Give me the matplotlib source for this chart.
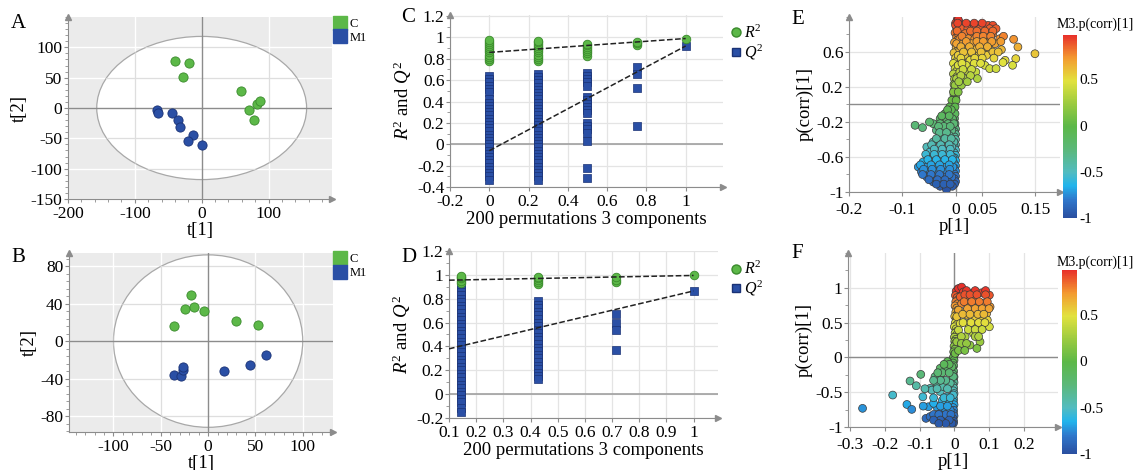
import numpy as np
import matplotlib
matplotlib.use("Agg")
import matplotlib.pyplot as plt
from matplotlib.patches import Ellipse
from matplotlib.lines import Line2D
from matplotlib.ticker import FuncFormatter, MultipleLocator, AutoMinorLocator
from matplotlib.colors import LinearSegmentedColormap

plt.rcParams['font.family'] = ['Liberation Serif', 'DejaVu Serif']
plt.rcParams['mathtext.fontset'] = 'custom'
plt.rcParams['mathtext.rm'] = 'Liberation Serif'
plt.rcParams['mathtext.it'] = 'Liberation Serif:italic'
plt.rcParams['axes.unicode_minus'] = False

GREEN, GREEN_E = '#5cb848', '#3a8a2c'
BLUE, BLUE_E = '#2a4fa5', '#1a3275'

# ---- A: scores ----
A_C_t1 = [-40, -19, -28, 59, 71, 78, 83, 88]
A_C_t2 = [78, 75, 51, 28, -3, -20, 6, 12]
A_M1_t1 = [-67, -66, -44, -36, -32, -13, -21, 0]
A_M1_t2 = [-3, -8, -8, -19, -31, -45, -55, -61]
A_ellipse = (157, 118)

# ---- B: scores ----
B_C_t1 = [-18, -24, -15, -4, -36, 30, 53]
B_C_t2 = [49, 34, 36, 32, 16, 21, 17]
B_M1_t1 = [-36, -29, -27, -26, 17, 44, 61]
B_M1_t2 = [-36, -37, -31, -28, -32, -25, -15]
B_ellipse = (100, 92)

# ---- C: permutations ----
C_R2_x = [0]*11 + [0.25]*11 + [0.5]*7 + [0.75]*3 + [1]
C_R2_y = [0.78, 0.80, 0.82, 0.84, 0.86, 0.88, 0.90, 0.92, 0.94, 0.96, 0.98,
          0.78, 0.80, 0.82, 0.84, 0.86, 0.88, 0.90, 0.92, 0.94, 0.96, 0.97,
          0.83, 0.85, 0.87, 0.89, 0.91, 0.93, 0.94,
          0.93, 0.95, 0.96,
          0.99]
C_Q2_x0 = [0.64, 0.61, 0.58, 0.55, 0.52, 0.49, 0.42, 0.39, 0.36, 0.33, 0.30,
           0.27, 0.24, 0.21, 0.18, 0.15, 0.12, 0.09, 0.06, 0.03, 0.00, -0.03,
           -0.06, -0.09, -0.12, -0.15, -0.18, -0.21, -0.24, -0.27, -0.30, -0.33]
C_Q2_x25 = [0.66, 0.63, 0.60, 0.57, 0.54, 0.51, 0.48, 0.45, 0.42, 0.39, 0.36,
            0.33, 0.30, 0.27, 0.24, 0.21, 0.18, 0.15, 0.12, 0.09, 0.06, 0.03,
            0.00, -0.03, -0.06, -0.09, -0.12, -0.15, -0.18, -0.21, -0.24,
            -0.27, -0.30, -0.33]
C_Q2_x50 = [0.67, 0.64, 0.61, 0.58, 0.55, 0.44, 0.41, 0.38, 0.35, 0.32, 0.29,
            0.20, 0.17, 0.14, 0.11, 0.03, -0.22, -0.32]
C_Q2_x75 = [0.72, 0.66, 0.53, 0.17]
C_Q2_x100 = [0.92]
C_R2_line = (0.86, 0.99)
C_Q2_line = (-0.06, 0.92)

# ---- D: permutations ----
D_R2_x = [0.143]*5 + [0.429]*5 + [0.714]*3 + [1]
D_R2_y = [0.93, 0.95, 0.97, 0.98, 0.99,
          0.92, 0.94, 0.96, 0.97, 0.98,
          0.94, 0.96, 0.98,
          0.995]
D_Q2_x14 = [0.92, 0.89, 0.86, 0.83, 0.80, 0.77, 0.74, 0.71, 0.68, 0.65, 0.62,
            0.59, 0.56, 0.53, 0.50, 0.47, 0.44, 0.41, 0.38, 0.35, 0.32, 0.29,
            0.26, 0.23, 0.20, 0.17, 0.14, 0.11, 0.08, 0.05, 0.02, -0.01,
            -0.04, -0.07, -0.12, -0.15]
D_Q2_x43 = [0.78, 0.75, 0.72, 0.69, 0.66, 0.63, 0.60, 0.57, 0.54, 0.51, 0.48,
            0.45, 0.42, 0.39, 0.36, 0.33, 0.30, 0.27, 0.24, 0.21, 0.18, 0.15,
            0.13]
D_Q2_x71 = [0.67, 0.60, 0.54, 0.37]
D_Q2_x100 = [0.865]
D_R2_line = (0.951, 0.995)
D_Q2_line = (0.326, 0.865)

# ---- E: S-plot (p[1], p(corr)[1]) ----
E_p = [0.005, 0.000, 0.014, 0.027, 0.040, 0.051, 0.061, 0.070,
       0.011, 0.023, 0.034, 0.046, 0.064, 0.076,
       0.005, 0.018, 0.030, 0.045, 0.058, 0.070,
       0.008, 0.024, 0.036, 0.049, 0.061, 0.083, 0.109,
       0.002, 0.014, 0.030, 0.046, 0.058, 0.074, 0.117,
       0.008, 0.022, 0.038, 0.052, 0.064, 0.086, 0.149,
       0.005, 0.018, 0.031, 0.044, 0.058, 0.093, 0.113,
       0.011, 0.027, 0.044,
       0.005, 0.020, 0.055, 0.107, 0.089,
       0.064, 0.076,
       0.008, 0.024, 0.038,
       0.002, 0.016, 0.041,
       -0.001, 0.011, -0.004, 0.005, -0.007, 0.001,
       -0.011, -0.001, -0.020, -0.011, -0.001,
       -0.029, -0.017, -0.006, -0.042, -0.029, -0.014, -0.003,
       -0.076, -0.062, -0.049,
       -0.036, -0.023, -0.007, -0.026, -0.012,
       -0.042, -0.029, -0.015, -0.003, -0.054, -0.020, -0.007,
       -0.048, -0.032, -0.017, -0.039, -0.023, -0.006,
       -0.061, -0.045, -0.029, -0.014,
       -0.070, -0.054, -0.039, -0.023, -0.005,
       -0.064, -0.048, -0.032, -0.017,
       -0.054, -0.039, -0.023, -0.007,
       -0.042, -0.029, -0.014, -0.029, -0.018, -0.006, -0.017]
E_pc = [0.97, 0.905, 0.905, 0.905, 0.905, 0.905, 0.905, 0.905,
        0.867, 0.867, 0.867, 0.867, 0.867, 0.867,
        0.81, 0.81, 0.81, 0.81, 0.81, 0.81,
        0.752, 0.752, 0.752, 0.752, 0.752, 0.752, 0.745,
        0.695, 0.695, 0.695, 0.695, 0.695, 0.695, 0.657,
        0.627, 0.627, 0.627, 0.627, 0.627, 0.627, 0.58,
        0.562, 0.562, 0.562, 0.562, 0.562, 0.505, 0.524,
        0.505, 0.505, 0.505,
        0.448, 0.448, 0.448, 0.448, 0.48,
        0.41, 0.41,
        0.372, 0.372, 0.372,
        0.296, 0.296, 0.296,
        0.22, 0.22, 0.143, 0.143, 0.048, 0.048,
        -0.028, -0.028, -0.105, -0.105, -0.105,
        -0.162, -0.162, -0.162, -0.219, -0.219, -0.219, -0.219,
        -0.238, -0.264, -0.2,
        -0.295, -0.295, -0.295, -0.352, -0.352,
        -0.428, -0.428, -0.428, -0.428, -0.485, -0.485, -0.485,
        -0.542, -0.542, -0.542, -0.6, -0.6, -0.6,
        -0.657, -0.657, -0.657, -0.657,
        -0.714, -0.714, -0.714, -0.714, -0.714,
        -0.771, -0.771, -0.771, -0.771,
        -0.828, -0.828, -0.828, -0.828,
        -0.886, -0.886, -0.886, -0.935, -0.935, -0.935, -0.973]
# filler rows between the ones above
E2_p = [0.004, 0.020, 0.035, 0.050,
        0.003, 0.028, 0.040, 0.055, 0.070,
        0.012, 0.040, 0.052, 0.066, 0.090,
        0.020, 0.040, 0.052, 0.068, 0.085,
        0.010, 0.026, 0.045, 0.060,
        0.015, 0.030, 0.048, 0.070, 0.080,
        0.010, 0.036, 0.050, 0.072,
        0.012, 0.035, 0.047,
        0.014, 0.030, 0.010, 0.028, 0.006, 0.022,
        -0.008, -0.015, -0.026, -0.012, -0.022, -0.010, -0.032,
        -0.030, -0.017, -0.036, -0.020, -0.008,
        -0.045, -0.028, -0.012, -0.040, -0.025, -0.010,
        -0.056, -0.040, -0.025, -0.010, -0.052, -0.036, -0.020, -0.006,
        -0.066, -0.046, -0.030, -0.012, -0.060, -0.044, -0.028, -0.011,
        -0.062, -0.046, -0.030, -0.012, -0.050, -0.034, -0.020,
        -0.036, -0.022, -0.010]
E2_pc = [0.93, 0.93, 0.93, 0.93,
         0.84, 0.84, 0.84, 0.84, 0.84,
         0.78, 0.78, 0.78, 0.78, 0.78,
         0.72, 0.72, 0.72, 0.72, 0.72,
         0.66, 0.66, 0.66, 0.66,
         0.60, 0.60, 0.60, 0.60, 0.60,
         0.53, 0.53, 0.53, 0.53,
         0.47, 0.47, 0.47,
         0.40, 0.40, 0.33, 0.33, 0.26, 0.26,
         -0.06, -0.06, -0.13, -0.13, -0.25, -0.25, -0.25,
         -0.32, -0.32, -0.39, -0.39, -0.39,
         -0.46, -0.46, -0.46, -0.51, -0.51, -0.51,
         -0.57, -0.57, -0.57, -0.57, -0.63, -0.63, -0.63, -0.63,
         -0.69, -0.69, -0.69, -0.69, -0.74, -0.74, -0.74, -0.74,
         -0.80, -0.80, -0.80, -0.80, -0.86, -0.86, -0.86,
         -0.91, -0.91, -0.91]
# dense column at p ~ 0
E3_p = [0.003, 0.006, 0.000, 0.008, 0.002, 0.005, -0.001, 0.007, 0.002, 0.004,
        -0.002, 0.006, 0.001, 0.004, -0.003, 0.005, 0.000, 0.003, -0.004, 0.004,
        -0.001, 0.002, -0.004, 0.003, -0.002, 0.001, -0.003, 0.002, -0.002, 0.000,
        -0.003, 0.000, -0.004, -0.003, -0.005, -0.004, -0.006, -0.003, -0.005,
        -0.002, -0.004, -0.001, -0.003, 0.000, -0.002, 0.000, -0.002, 0.000,
        -0.003, 0.000, -0.002, 0.000, -0.003, 0.000, -0.002, 0.000, -0.003,
        0.000, -0.002, 0.000, -0.003, 0.000, -0.002, 0.000, -0.002]
E3_pc = [0.97, 0.95, 0.93, 0.90, 0.88, 0.85, 0.82, 0.80, 0.77, 0.74,
         0.71, 0.68, 0.65, 0.62, 0.59, 0.56, 0.53, 0.50, 0.47, 0.44,
         0.41, 0.38, 0.35, 0.32, 0.29, 0.26, 0.23, 0.20, 0.17, 0.14,
         0.11, 0.08, 0.05, 0.02, -0.01, -0.04, -0.07, -0.10, -0.13,
         -0.16, -0.19, -0.22, -0.25, -0.28, -0.31, -0.34, -0.37, -0.40,
         -0.43, -0.46, -0.49, -0.52, -0.55, -0.58, -0.61, -0.64, -0.67,
         -0.70, -0.73, -0.76, -0.79, -0.82, -0.85, -0.88, -0.91]

# ---- F: S-plot ----
F_p = [0.012, 0.021, 0.026, 0.050, 0.079, 0.101,
       0.017, 0.040, 0.060, 0.084, 0.103,
       0.021, 0.045, 0.069,
       0.012, 0.031, 0.055, 0.093,
       0.007, 0.036, 0.060, 0.079, 0.095,
       0.017, 0.040, 0.065, 0.101,
       0.012, 0.031, 0.055,
       0.045, 0.074, 0.065, 0.007, 0.002,
       -0.265, -0.178, -0.128, -0.097, -0.110,
       -0.137, -0.123, -0.091, -0.075, -0.082,
       -0.070, -0.051, -0.041, -0.027, -0.020,
       -0.070, -0.051, -0.041, -0.032, -0.017, -0.007,
       -0.051, -0.027, -0.012, -0.060,
       -0.065, -0.041, -0.022, -0.003, -0.056, -0.041,
       -0.022, -0.007, -0.003, -0.012, -0.032, -0.017, -0.035]
F_pc = [0.99, 1.01, 0.94, 0.918, 0.928, 0.894,
        0.87, 0.846, 0.822, 0.774, 0.727,
        0.774, 0.774, 0.727,
        0.68, 0.654, 0.654, 0.63,
        0.584, 0.607, 0.56, 0.536, 0.536,
        0.487, 0.487, 0.44, 0.44,
        0.392, 0.296, 0.344,
        0.177, 0.224, 0.129, 0.224, 0.057,
        -0.732, -0.541, -0.339, -0.244, -0.407,
        -0.676, -0.747, -0.566, -0.709, -0.876,
        -0.445, -0.374, -0.277, -0.18, -0.06,
        -0.85, -0.9, -0.8, -0.92, -0.876, -0.947,
        -0.71, -0.733, -0.757, -0.66,
        -0.47, -0.49, -0.566, -0.54, -0.277, -0.157,
        -0.158, -0.134, -0.277, -0.37, -0.42, -0.638, -0.62]
F2_p = [0.035, 0.060, 0.090,
        0.030, 0.045, 0.065, 0.090,
        0.028, 0.050, 0.072, 0.095,
        0.038, 0.060, 0.080, 0.100,
        0.024, 0.045, 0.068, 0.085,
        0.025, 0.048, 0.070, 0.088,
        0.040, 0.060, 0.080,
        0.020, 0.060, 0.070,
        0.020, 0.035, 0.012, 0.030,
        -0.015, -0.030, -0.035, -0.015, -0.048,
        -0.025, -0.040, -0.060, -0.020, -0.050, -0.085,
        -0.030, -0.060, -0.012, -0.040, -0.020, -0.090,
        -0.060, -0.025, -0.045, -0.010,
        -0.040, -0.015, -0.060, -0.025, -0.045]
F2_pc = [0.96, 0.96, 0.96,
         0.90, 0.90, 0.90, 0.90,
         0.80, 0.80, 0.80, 0.80,
         0.70, 0.70, 0.70, 0.70,
         0.62, 0.62, 0.62, 0.62,
         0.50, 0.50, 0.50, 0.50,
         0.40, 0.40, 0.40,
         0.30, 0.30, 0.30,
         0.20, 0.20, 0.10, 0.10,
         -0.10, -0.10, -0.22, -0.22, -0.22,
         -0.33, -0.33, -0.33, -0.45, -0.45, -0.45,
         -0.58, -0.58, -0.58, -0.70, -0.70, -0.70,
         -0.82, -0.82, -0.82, -0.82,
         -0.90, -0.90, -0.90, -0.95, -0.95]
F3_p = [0.010, 0.005, 0.012, 0.003, 0.008, 0.011, 0.004, 0.009, 0.002, 0.007,
        0.010, 0.004, 0.008, 0.001, 0.006, 0.009, 0.003, 0.007, 0.000, 0.005,
        0.008, 0.002, 0.006, 0.000, 0.004, 0.001, 0.003, -0.001, 0.002, -0.002,
        0.000, -0.003, -0.001, -0.004, -0.002, -0.005, -0.002, -0.004, -0.001,
        -0.003, -0.001, -0.004, -0.002, -0.003, -0.001, -0.004, -0.002, -0.003,
        -0.001, -0.004, -0.002, -0.003, -0.001, -0.004, -0.002, -0.003]
F3_pc = [0.98, 0.95, 0.92, 0.89, 0.86, 0.83, 0.80, 0.77, 0.74, 0.71,
         0.68, 0.65, 0.62, 0.59, 0.56, 0.53, 0.50, 0.47, 0.44, 0.41,
         0.38, 0.35, 0.32, 0.29, 0.26, 0.23, 0.20, 0.16, 0.12, 0.08,
         0.04, 0.00, -0.04, -0.08, -0.12, -0.16, -0.20, -0.24, -0.28,
         -0.32, -0.36, -0.40, -0.44, -0.48, -0.52, -0.56, -0.60, -0.64,
         -0.68, -0.72, -0.76, -0.80, -0.84, -0.88, -0.92, -0.95]

splot_cmap = LinearSegmentedColormap.from_list('splot', [
    (0.0, '#2a4fa0'), (0.1, '#2f78cc'), (0.175, '#22b4ec'), (0.25, '#52bcc0'),
    (0.375, '#5bb87a'), (0.5, '#5cb848'), (0.625, '#9ccb40'), (0.75, '#e2e23e'),
    (0.875, '#f39a30'), (1.0, '#e8302a')])

fmt = FuncFormatter(lambda v, _: f'{v:g}')
W, H = 1141, 470
TICK_FS, LAB_FS = 12.5, 13.5


def box(l, t, r, b):
    return [l / W, 1 - b / H, (r - l) / W, (b - t) / H]


def style(ax):
    for s in ['top', 'right']:
        ax.spines[s].set_visible(False)
    for s in ['left', 'bottom']:
        ax.spines[s].set_color('#8c8c8c')
    ax.tick_params(colors='#8c8c8c', labelcolor='black', labelsize=TICK_FS,
                   length=3, width=0.8, pad=1)
    ax.tick_params(axis='x', pad=2)
    ax.tick_params(which='minor', colors='#8c8c8c', length=2)
    ax.plot(1, 0, '>', color='#8c8c8c', ms=4, transform=ax.transAxes, clip_on=False)
    ax.plot(0, 1, '^', color='#8c8c8c', ms=4, transform=ax.transAxes, clip_on=False)
    ax.xaxis.set_major_formatter(fmt)
    ax.yaxis.set_major_formatter(fmt)


def score_plot(ax, c1, c2, m1, m2, ell, xlim, ylim, xstep, ystep):
    ax.set_facecolor('#ebebeb')
    ax.set_axisbelow(True)
    ax.xaxis.set_major_locator(MultipleLocator(xstep))
    ax.yaxis.set_major_locator(MultipleLocator(ystep))
    ax.xaxis.set_minor_locator(AutoMinorLocator(5))
    ax.yaxis.set_minor_locator(AutoMinorLocator(5))
    ax.grid(True, color='white', lw=1)
    e = Ellipse((0, 0), 2 * ell[0], 2 * ell[1], facecolor='white',
                edgecolor='#a8a8a8', lw=0.9, zorder=0.6)
    ax.add_patch(e)
    ax.set_xlim(*xlim)
    ax.set_ylim(*ylim)
    for v in ax.get_xticks():
        if xlim[0] < v < xlim[1] and v != 0:
            ln = ax.axvline(v, color='#dedede', lw=0.9, zorder=0.7)
            ln.set_clip_path(e)
    for v in ax.get_yticks():
        if ylim[0] < v < ylim[1] and v != 0:
            ln = ax.axhline(v, color='#dedede', lw=0.9, zorder=0.7)
            ln.set_clip_path(e)
    ax.axhline(0, color='#8c8c8c', lw=1, zorder=0.8)
    ax.axvline(0, color='#8c8c8c', lw=1, zorder=0.8)
    ax.scatter(c1, c2, s=44, c=GREEN, edgecolors=GREEN_E, lw=0.6, zorder=3)
    ax.scatter(m1, m2, s=44, c=BLUE, edgecolors=BLUE_E, lw=0.6, zorder=3)
    style(ax)
    ax.set_xlabel('t[1]', fontsize=LAB_FS, labelpad=0)
    ax.set_ylabel('t[2]', fontsize=LAB_FS, labelpad=2)


def perm_plot(ax, r2x, r2y, q2, r2line, q2line, xlim, ylim, xstep, ystep, x0):
    ax.set_axisbelow(True)
    ax.xaxis.set_major_locator(MultipleLocator(xstep))
    ax.yaxis.set_major_locator(MultipleLocator(ystep))
    ax.yaxis.set_minor_locator(AutoMinorLocator(2))
    ax.grid(True, color='#e4e4e4', lw=0.9)
    ax.axhline(0, color='#a0a0a0', lw=1.2, zorder=1)
    for xv, ys in q2:
        ax.scatter([xv] * len(ys), ys, marker='s', s=32, c=BLUE,
                   edgecolors=BLUE_E, lw=0.5, zorder=3)
    ax.scatter(r2x, r2y, s=38, c=GREEN, edgecolors=GREEN_E, lw=0.6, zorder=4)
    ax.plot([x0, 1], [r2line[0] + (r2line[1] - r2line[0]) * x0, r2line[1]],
            '--', color='#222222', lw=1.1, zorder=5)
    ax.plot([x0, 1], [q2line[0] + (q2line[1] - q2line[0]) * x0, q2line[1]],
            '--', color='#222222', lw=1.1, zorder=5)
    ax.set_xlim(*xlim)
    ax.set_ylim(*ylim)
    style(ax)
    ax.set_xlabel('200 permutations 3 components', fontsize=LAB_FS, labelpad=1)
    ax.set_ylabel('$R^2$ and $Q^2$', fontsize=LAB_FS, labelpad=2)


def s_plot(ax, cax, p, pc, xlim, ylim, xticks, yticks, title_y):
    ax.set_axisbelow(True)
    ax.set_xticks(xticks)
    ax.set_yticks(yticks)
    ax.yaxis.set_minor_locator(AutoMinorLocator(2))
    ax.grid(True, color='#e4e4e4', lw=0.9)
    ax.axhline(0, color='#8c8c8c', lw=1, zorder=1)
    ax.axvline(0, color='#8c8c8c', lw=1, zorder=1)
    sc = ax.scatter(p, pc, c=pc, cmap=splot_cmap, vmin=-1, vmax=0.98, s=32,
                    edgecolors='#3a3a3a', lw=0.5, zorder=3)
    ax.set_xlim(*xlim)
    ax.set_ylim(*ylim)
    style(ax)
    ax.tick_params(axis='x', pad=4)
    ax.set_xlabel('p[1]', fontsize=LAB_FS, labelpad=0)
    ax.set_ylabel('p(corr)[1]', fontsize=LAB_FS, labelpad=2)
    cb = fig.colorbar(sc, cax=cax, ticks=[-1, -0.5, 0, 0.5])
    cb.outline.set_visible(False)
    cb.ax.tick_params(length=0, labelsize=11, pad=2)
    cb.ax.yaxis.set_major_formatter(fmt)
    fig.text(1057 / W, 1 - title_y / H, 'M3.p(corr)[1]', fontsize=10,
             ha='left', va='center')


fig = plt.figure(figsize=(W / 100, H / 100), dpi=100)

axA = fig.add_axes(box(68, 17, 332, 199))
score_plot(axA, A_C_t1, A_C_t2, A_M1_t1, A_M1_t2, A_ellipse,
           (-200, 195), (-150, 150), 100, 50)
axA.set_yticks([-150, -100, -50, 0, 50, 100])

axB = fig.add_axes(box(69, 253, 333, 432))
score_plot(axB, B_C_t1, B_C_t2, B_M1_t1, B_M1_t2, B_ellipse,
           (-147, 132), (-97, 94), 50, 40)
axB.set_xticks([-100, -50, 0, 50, 100])
axB.set_yticks([-80, -40, 0, 40, 80])

for ax, y0 in [(axA, 0.93), (axB, 0.43)]:
    h = [Line2D([], [], marker='s', ls='', ms=9.5, mfc=GREEN, mec=GREEN),
         Line2D([], [], marker='s', ls='', ms=9.5, mfc=BLUE, mec=BLUE)]
    fig.legend(h, ['C', 'M1'], loc='upper left', bbox_to_anchor=(0.288, y0 + 0.045),
               frameon=False, fontsize=9, handlelength=0.9, handletextpad=0.3,
               labelspacing=0.15, borderpad=0)

axC = fig.add_axes(box(450, 15, 723, 187))
perm_plot(axC, C_R2_x, C_R2_y,
          [(0, C_Q2_x0), (0.25, C_Q2_x25), (0.5, C_Q2_x50), (0.75, C_Q2_x75), (1, C_Q2_x100)],
          C_R2_line, C_Q2_line, (-0.2, 1.19), (-0.4, 1.21), 0.2, 0.2, 0)

axD = fig.add_axes(box(449, 251, 718, 418))
perm_plot(axD, D_R2_x, D_R2_y,
          [(0.143, D_Q2_x14), (0.429, D_Q2_x43), (0.714, D_Q2_x71), (1, D_Q2_x100)],
          D_R2_line, D_Q2_line, (0.1, 1.09), (-0.2, 1.2), 0.1, 0.2, 0.1)

for y0 in [0.965, 0.462]:
    h = [Line2D([], [], marker='o', ls='', ms=6.5, mfc=GREEN, mec=GREEN_E),
         Line2D([], [], marker='s', ls='', ms=6, mfc=BLUE, mec=BLUE_E)]
    fig.legend(h, ['$R^2$', '$Q^2$'], loc='upper left', bbox_to_anchor=(0.634, y0),
               frameon=False, fontsize=11.5, handlelength=0.6, handletextpad=0.2,
               labelspacing=0.05, borderpad=0)

axE = fig.add_axes(box(849, 17, 1060, 192))
caxE = fig.add_axes(box(1063, 35, 1077, 218))
s_plot(axE, caxE, E3_p + E_p + E2_p, E3_pc + E_pc + E2_pc, (-0.2, 0.196), (-1, 1.0),
       [-0.2, -0.1, 0, 0.05, 0.15], [-1, -0.6, -0.2, 0.2, 0.6], 24)

axF = fig.add_axes(box(848, 253, 1058, 427))
caxF = fig.add_axes(box(1062, 270, 1077, 454))
s_plot(axF, caxF, F3_p + F_p + F2_p, F3_pc + F_pc + F2_pc, (-0.307, 0.299), (-1, 1.5),
       [-0.3, -0.2, -0.1, 0, 0.1, 0.2], [-1, -0.5, 0, 0.5, 1], 262)

for lab, x, y in [('A', 11, 24), ('B', 11, 258), ('C', 401, 17), ('D', 401, 258),
                  ('E', 791, 19), ('F', 791, 254)]:
    fig.text(x / W, 1 - y / H, lab, fontsize=15, va='center', ha='left')

fig.savefig('out.png', dpi=100)
